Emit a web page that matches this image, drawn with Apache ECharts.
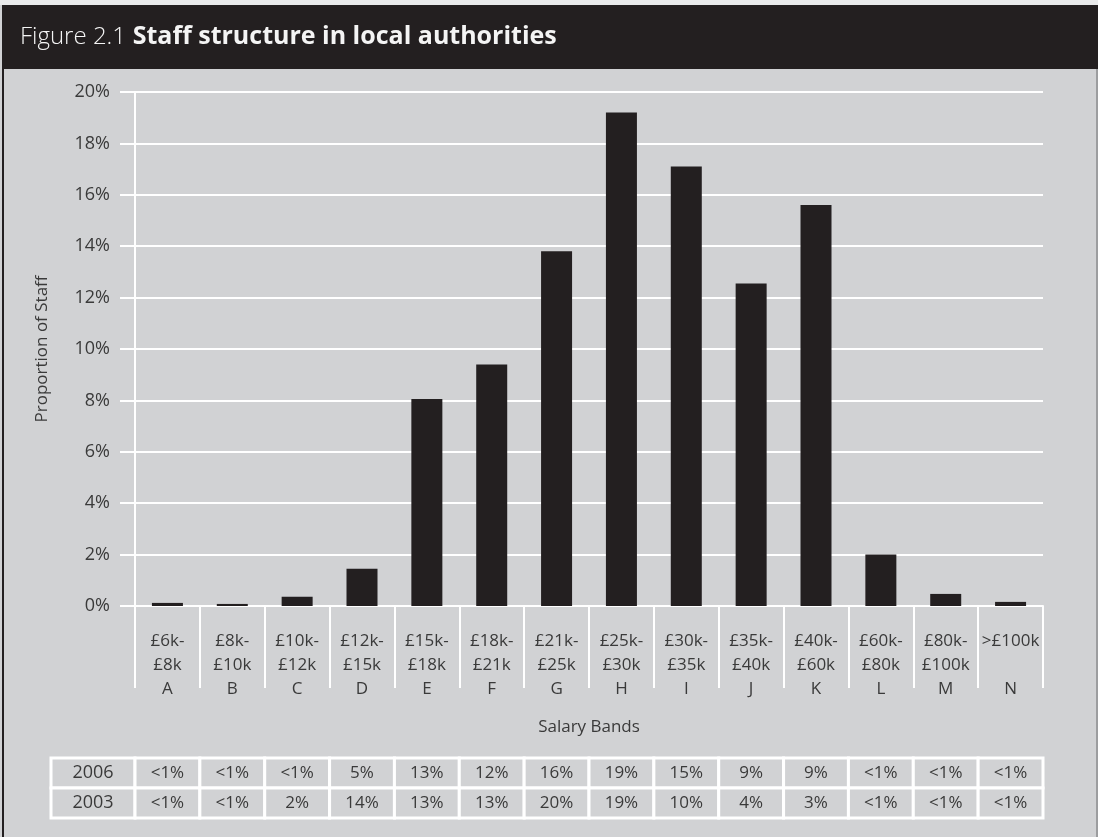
<!DOCTYPE html>
<html>
<head>
<meta charset="utf-8">
<title>Staff structure in local authorities</title>
<script src="https://cdn.jsdelivr.net/npm/echarts@6/dist/echarts.min.js"></script>
<style>
  html, body { margin: 0; padding: 0; background: #ffffff; }
  #chart { width: 1098px; height: 837px; }
</style>
</head>
<body>
<div id="chart"></div>
<script>
// Salary band codes and the pay ranges they cover
const bandCodes = ['A', 'B', 'C', 'D', 'E', 'F', 'G', 'H', 'I', 'J', 'K', 'L', 'M', 'N'];
const bandRanges = ['£6k-\n£8k', '£8k-\n£10k', '£10k-\n£12k', '£12k-\n£15k', '£15k-\n£18k',
  '£18k-\n£21k', '£21k-\n£25k', '£25k-\n£30k', '£30k-\n£35k', '£35k-\n£40k',
  '£40k-\n£60k', '£60k-\n£80k', '£80k-\n£100k', '>£100k\n '];

// Proportion of staff in each band (%)
const staffShare = [0.12, 0.08, 0.36, 1.45, 8.05, 9.4, 13.8, 19.2, 17.1, 12.55, 15.6, 2.0, 0.47, 0.16];

// Comparison table rows
const tableYears = ['2006', '2003'];
const share2006 = ['<1%', '<1%', '<1%', '5%', '13%', '12%', '16%', '19%', '15%', '9%', '9%', '<1%', '<1%', '<1%'];
const share2003 = ['<1%', '<1%', '2%', '14%', '13%', '13%', '20%', '19%', '10%', '4%', '3%', '<1%', '<1%', '<1%'];

const FONT = '"Open Sans", "Noto Sans", sans-serif';
const INK = '#3a3a3a';
const PANEL = '#d1d2d4';
const DARK = '#231f20';

const chart = echarts.init(document.getElementById('chart'), null, { renderer: 'canvas' });

function frameGraphics() {
  return [
    { type: 'rect', shape: { x: 0, y: 0, width: 1098, height: 5 }, style: { fill: '#e9eaeb' }, silent: true },
    { type: 'rect', shape: { x: 2, y: 5, width: 1096, height: 64 }, style: { fill: DARK }, silent: true },
    { type: 'rect', shape: { x: 2, y: 69, width: 2, height: 768 }, style: { fill: DARK }, silent: true },
    { type: 'rect', shape: { x: 1096, y: 69, width: 2, height: 768 }, style: { fill: '#9c9d9f' }, silent: true },
    {
      type: 'text', x: 20, y: 37, silent: true,
      style: {
        text: '{a|Figure 2.1}  {b|Staff structure in local authorities}',
        verticalAlign: 'middle',
        rich: {
          a: { fontFamily: FONT, fontSize: 24, fontWeight: 300, fill: '#f4f4f4' },
          b: { fontFamily: FONT, fontSize: 25, fontWeight: 'bold', fill: '#f4f4f4' }
        }
      }
    }
  ];
}

chart.setOption({
  backgroundColor: PANEL,
  animation: false,
  textStyle: { fontFamily: FONT },
  grid: { left: 135, right: 55, top: 92, bottom: 231 },
  xAxis: {
    type: 'category',
    data: bandCodes,
    boundaryGap: true,
    axisLine: { show: true, lineStyle: { color: '#ffffff', width: 2 } },
    axisTick: { show: true, interval: 0, length: 82, lineStyle: { color: '#ffffff', width: 2 } },
    axisLabel: {
      interval: 0,
      margin: 23,
      color: INK,
      fontSize: 17,
      lineHeight: 24,
      align: 'center',
      formatter: (code, i) => bandRanges[i] + '\n' + code
    },
    name: 'Salary Bands',
    nameLocation: 'middle',
    nameGap: 113,
    nameTextStyle: { color: INK, fontSize: 17 }
  },
  yAxis: {
    type: 'value',
    min: 0,
    max: 20,
    interval: 2,
    axisLine: { show: true, lineStyle: { color: '#ffffff', width: 2 } },
    axisTick: { show: true, length: 15, lineStyle: { color: '#ffffff', width: 2 } },
    splitLine: { show: true, lineStyle: { color: '#ffffff', width: 2 } },
    axisLabel: { margin: 25, color: INK, fontSize: 18, formatter: '{value}%' },
    name: 'Proportion of Staff',
    nameLocation: 'middle',
    nameGap: 84,
    nameRotate: 90,
    nameTextStyle: { color: INK, fontSize: 17 }
  },
  series: [{
    type: 'bar',
    data: staffShare,
    barWidth: 31,
    itemStyle: { color: DARK },
    z: 1
  }],
  graphic: { elements: frameGraphics() }
});

// Table under the chart, columns aligned with the salary bands
function tableGraphics() {
  const x0 = chart.convertToPixel({ xAxisIndex: 0 }, 0);
  const x1 = chart.convertToPixel({ xAxisIndex: 0 }, 1);
  const band = x1 - x0;
  const left = x0 - band / 2;
  const headLeft = 51;
  const rowTop = 758;
  const rowH = 30;
  const rows = [share2006, share2003];
  const els = [];
  rows.forEach((vals, r) => {
    const y = rowTop + r * rowH;
    els.push({
      type: 'rect', silent: true,
      shape: { x: headLeft, y: y, width: left - headLeft, height: rowH },
      style: { fill: PANEL, stroke: '#ffffff', lineWidth: 3 }
    });
    els.push({
      type: 'text', silent: true, x: (headLeft + left) / 2, y: y + rowH / 2,
      style: { text: tableYears[r], fontFamily: FONT, fontSize: 18, fill: INK, align: 'center', verticalAlign: 'middle' }
    });
    vals.forEach((v, i) => {
      const cx = chart.convertToPixel({ xAxisIndex: 0 }, i);
      els.push({
        type: 'rect', silent: true,
        shape: { x: cx - band / 2, y: y, width: band, height: rowH },
        style: { fill: PANEL, stroke: '#ffffff', lineWidth: 3 }
      });
      els.push({
        type: 'text', silent: true, x: cx, y: y + rowH / 2,
        style: { text: v, fontFamily: FONT, fontSize: 17, fill: INK, align: 'center', verticalAlign: 'middle' }
      });
    });
  });
  return els;
}

chart.setOption({ graphic: { elements: frameGraphics().concat(tableGraphics()) } }, { replaceMerge: ['graphic'] });
</script>
</body>
</html>
